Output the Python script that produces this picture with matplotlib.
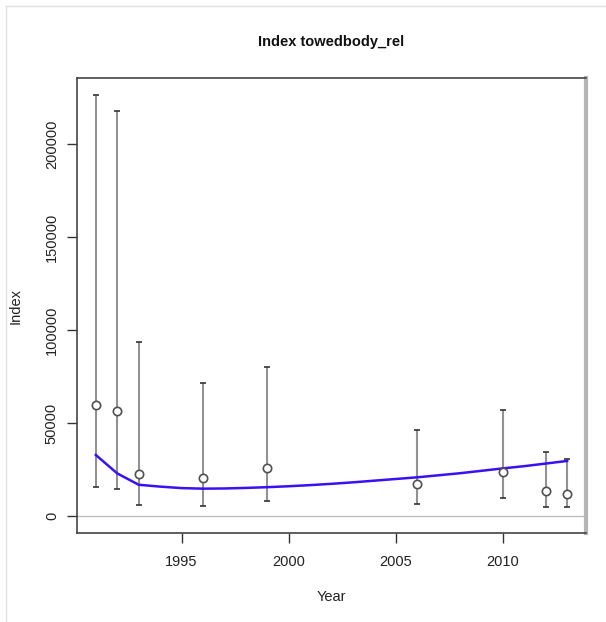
import numpy as np
import matplotlib.pyplot as plt
from matplotlib.lines import Line2D

plt.rcParams['font.family'] = ['Liberation Sans', 'DejaVu Sans']

# survey index estimates with confidence limits
years = [1991, 1992, 1993, 1996, 1999, 2006, 2010, 2012, 2013]
index = [59700, 56400, 22700, 20300, 25600, 17000, 23800, 13300, 11800]
upper = [226500, 217600, 93500, 71300, 80000, 46400, 56800, 34200, 30600]
lower = [15600, 14500, 5900, 5500, 8200, 6300, 9700, 5000, 4700]

# fitted trend
fit_years = list(range(1991, 2014))
fit_vals = [32800, 22900, 16800, 15800, 15000, 14700, 14800, 15100, 15500,
            16000, 16600, 17300, 18100, 19000, 19900, 20800, 21900, 23000,
            24300, 25600, 26800, 28200, 29600]

fig = plt.figure(figsize=(6.06, 6.22), dpi=100)
ax = fig.add_axes([77/606, 89/622, 509/606, 455/622])

ax.axhline(0, color='#bdbdbd', lw=1, zorder=1)
ax.vlines(years, lower, upper, color='#929292', lw=1.5, zorder=2)
ax.plot(years, upper, ls='none', marker='_', ms=5, mew=1.2, color='#333333', zorder=3)
ax.plot(years, lower, ls='none', marker='_', ms=5, mew=1.2, color='#333333', zorder=3)
ax.plot(fit_years, fit_vals, color='#3a10f5', lw=1.8, zorder=4)
ax.plot(years, index, ls='none', marker='o', ms=6, mfc='white', mec='#505050',
        mew=1.2, zorder=5)

ax.set_xlim(1990.12, 2013.88)
ax.set_ylim(-9140, 235500)
ax.set_xticks([1995, 2000, 2005, 2010])
ax.set_yticks([0, 50000, 100000, 150000, 200000])
ax.tick_params(axis='both', direction='out', length=7, width=1, color='#333333',
               labelsize=10.5, labelcolor='#222222')
ax.tick_params(axis='x', pad=9)
ax.tick_params(axis='y', pad=6)
for lab in ax.get_yticklabels():
    lab.set_rotation(90)
    lab.set_va('center')

for s in ['left', 'bottom', 'top']:
    ax.spines[s].set_color('#444444')
    ax.spines[s].set_linewidth(1.2)
ax.spines['right'].set_color('#b5b5b5')
ax.spines['right'].set_linewidth(3)

ax.set_xlabel('Year', fontsize=10.5, color='#222222', labelpad=15)
ax.set_ylabel('Index', fontsize=10.5, color='#222222', labelpad=16)
fig.text(331/606, 1 - 42/622, 'Index towedbody_rel', ha='center', va='center',
         fontsize=10.5, fontweight='bold', color='#111111')

# thin outer frame on top and left
fig.add_artist(Line2D([6/606, 1], [1 - 6/622, 1 - 6/622], transform=fig.transFigure,
                      color='#e0e0e0', lw=1))
fig.add_artist(Line2D([6/606, 6/606], [0, 1 - 6/622], transform=fig.transFigure,
                      color='#e0e0e0', lw=1))

fig.savefig('out.png', dpi=100)
